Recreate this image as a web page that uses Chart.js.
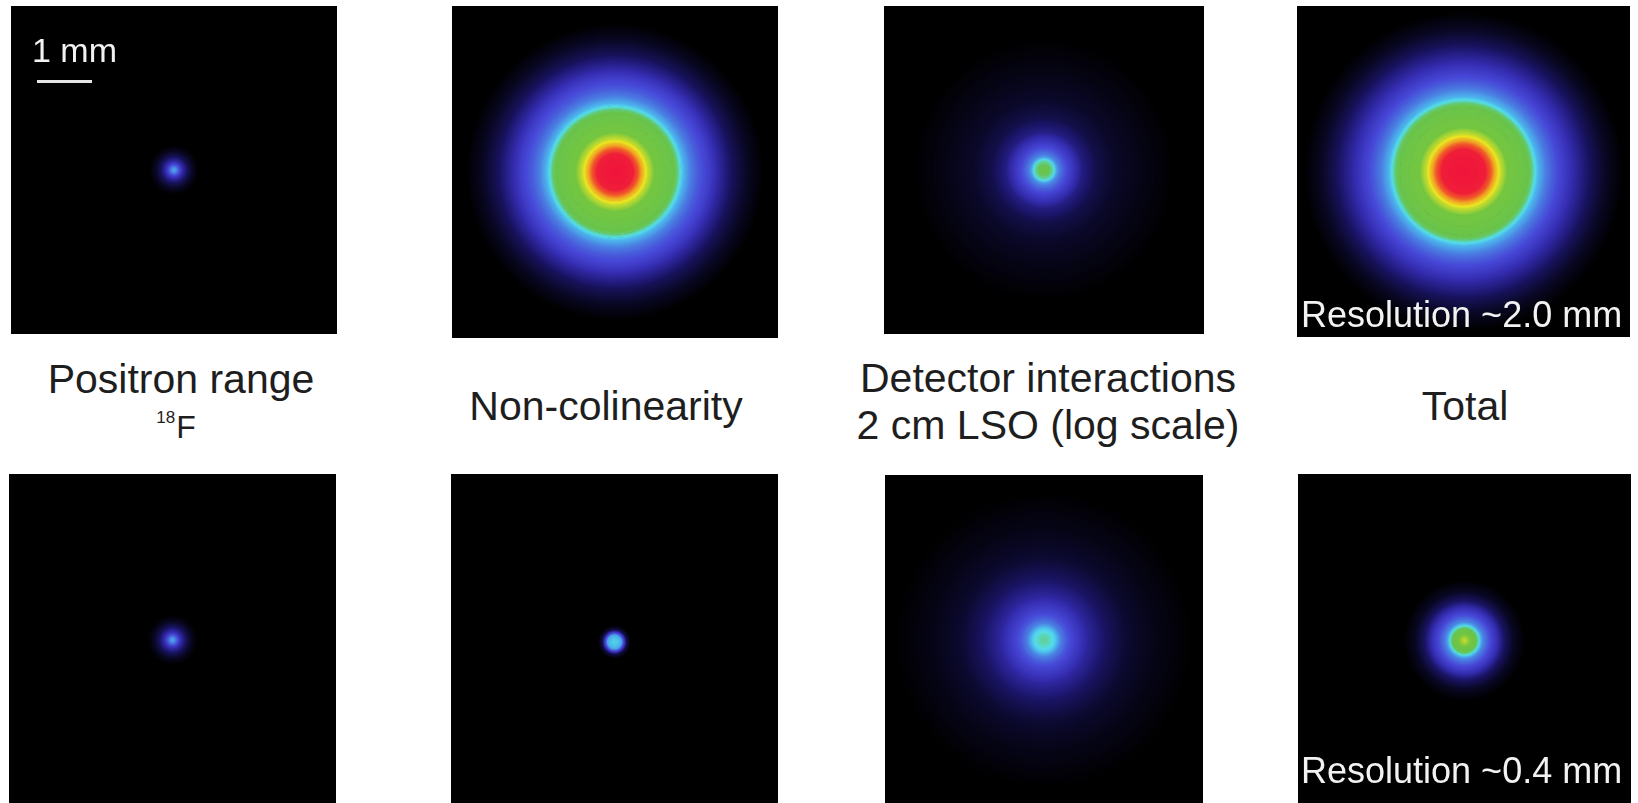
<!DOCTYPE html>
<html>
<head>
<meta charset="utf-8">
<script src="https://cdn.jsdelivr.net/npm/chart.js@4.4.1/dist/chart.umd.min.js"></script>
<style>
html,body{margin:0;padding:0;background:#fff;width:1638px;height:803px;overflow:hidden;font-family:"Liberation Sans",Arial,sans-serif;}
.panel{position:absolute;background:#000;overflow:hidden;}
.panel canvas{display:block;}
.lbl{position:absolute;color:#1e1e1e;font-size:41px;line-height:41px;white-space:nowrap;transform:translateX(-50%);}
.wt{position:absolute;color:#f2f2f2;white-space:nowrap;z-index:5;}
.bar{position:absolute;background:#e6e6e6;z-index:5;}
sup{font-size:17px;vertical-align:baseline;position:relative;top:-15px;margin-right:1px;}
</style>
</head>
<body>
<div id="root"></div>
<script>
// ---------------- DATA (radial profiles) ----------------
// radius in mm from the centre of each point-spread image, level = relative colour level (0..1)
const positronRangeRadius   = [0, 0.05, 0.10, 0.16, 0.24, 0.34, 0.45];
const positronRangeLevel    = [0.48, 0.44, 0.34, 0.22, 0.12, 0.05, 0];

const nonColinearityRadius  = [0, 0.20, 0.33, 0.42, 0.52, 0.60, 0.72, 0.90, 1.05, 1.13, 1.19, 1.25, 1.36, 1.50, 1.68, 1.88, 2.12, 2.42, 2.70];
const nonColinearityLevel   = [1.00, 0.97, 0.93, 0.88, 0.82, 0.76, 0.70, 0.65, 0.60, 0.56, 0.52, 0.49, 0.44, 0.38, 0.32, 0.22, 0.12, 0.05, 0];

const detectorTopRadius     = [0, 0.10, 0.18, 0.25, 0.35, 0.50, 0.70, 0.95, 1.30, 1.80, 2.40];
const detectorTopLevel      = [0.60, 0.57, 0.53, 0.45, 0.38, 0.29, 0.17, 0.10, 0.06, 0.03, 0];

const totalTopRadius        = [0, 0.25, 0.40, 0.50, 0.60, 0.68, 0.80, 1.00, 1.15, 1.24, 1.30, 1.36, 1.48, 1.62, 1.78, 2.02, 2.30, 2.60, 2.90];
const totalTopLevel         = [1.00, 0.97, 0.93, 0.88, 0.82, 0.76, 0.70, 0.65, 0.60, 0.56, 0.52, 0.49, 0.44, 0.38, 0.32, 0.22, 0.12, 0.05, 0];

const nonColinearityLowRadius = [0, 0.08, 0.13, 0.17, 0.22, 0.30];
const nonColinearityLowLevel  = [0.51, 0.50, 0.47, 0.32, 0.10, 0];

const detectorLowRadius     = [0, 0.12, 0.22, 0.30, 0.42, 0.58, 0.80, 1.10, 1.50, 2.00, 2.70];
const detectorLowLevel      = [0.55, 0.53, 0.50, 0.44, 0.37, 0.30, 0.21, 0.13, 0.07, 0.035, 0];

const totalLowRadius        = [0, 0.08, 0.16, 0.22, 0.27, 0.33, 0.45, 0.58, 0.72, 0.90, 1.10];
const totalLowLevel         = [0.76, 0.72, 0.64, 0.57, 0.52, 0.45, 0.36, 0.26, 0.13, 0.05, 0];

const columnTitles = [["Positron range", "18F"], ["Non-colinearity"], ["Detector interactions", "2 cm LSO (log scale)"], ["Total"]];
const resolutionLabels = ["Resolution ~2.0 mm", "Resolution ~0.4 mm"];
const scaleBarLabel = "1 mm";
const scaleBarMm = 1;

// ---------------- STYLE ----------------
const PX_PER_MM = 55;
const colormapStops = [
  [0.00, [0, 0, 0]], [0.06, [10, 8, 40]], [0.14, [28, 22, 108]], [0.24, [52, 44, 176]],
  [0.34, [70, 70, 214]], [0.43, [74, 124, 226]], [0.49, [76, 180, 236]], [0.52, [84, 222, 234]],
  [0.55, [96, 206, 140]], [0.58, [104, 196, 76]], [0.70, [116, 198, 64]], [0.75, [184, 216, 48]],
  [0.79, [236, 230, 32]], [0.84, [240, 168, 36]], [0.88, [240, 90, 40]], [0.93, [240, 30, 56]],
  [1.00, [240, 20, 60]]
];
function cmap(v) {
  v = Math.max(0, Math.min(1, v));
  for (let i = 0; i < colormapStops.length - 1; i++) {
    const [a, ca] = colormapStops[i], [b, cb] = colormapStops[i + 1];
    if (v <= b) {
      const t = (v - a) / (b - a);
      const c = ca.map((x, k) => Math.round(x + (cb[k] - x) * t));
      return `rgb(${c[0]},${c[1]},${c[2]})`;
    }
  }
  const c = colormapStops[colormapStops.length - 1][1];
  return `rgb(${c[0]},${c[1]},${c[2]})`;
}

const panels = [
  {r: positronRangeRadius,     v: positronRangeLevel,     box: [11, 6, 326, 328]},
  {r: nonColinearityRadius,    v: nonColinearityLevel,    box: [452, 6, 326, 332]},
  {r: detectorTopRadius,       v: detectorTopLevel,       box: [884, 6, 320, 328]},
  {r: totalTopRadius,          v: totalTopLevel,          box: [1297, 6, 333, 331]},
  {r: positronRangeRadius,     v: positronRangeLevel,     box: [9, 474, 327, 332]},
  {r: nonColinearityLowRadius, v: nonColinearityLowLevel, box: [451, 474, 327, 336]},
  {r: detectorLowRadius,       v: detectorLowLevel,       box: [885, 475, 318, 330]},
  {r: totalLowRadius,          v: totalLowLevel,          box: [1298, 474, 333, 333]}
];

const root = document.getElementById('root');

function gradientFor(chart, r, v) {
  if (chart.$grad) return chart.$grad;
  const ca = chart.chartArea;
  if (!ca) return '#000';
  const cx = (ca.left + ca.right) / 2, cy = (ca.top + ca.bottom) / 2;
  const rmax = r[r.length - 1];
  const g = chart.ctx.createRadialGradient(cx, cy, 0, cx, cy, rmax * PX_PER_MM);
  const sub = 10;
  for (let i = 0; i < r.length - 1; i++) {
    for (let k = 0; k < sub; k++) {
      const t = k / sub;
      const rr = r[i] + (r[i + 1] - r[i]) * t;
      const vv = v[i] + (v[i + 1] - v[i]) * t;
      g.addColorStop(rr / rmax, cmap(vv));
    }
  }
  g.addColorStop(1, cmap(v[v.length - 1]));
  chart.$grad = g;
  return g;
}

panels.forEach((p) => {
  const [x, y, w, h] = p.box;
  const div = document.createElement('div');
  div.className = 'panel';
  div.style.left = x + 'px'; div.style.top = y + 'px';
  div.style.width = w + 'px'; div.style.height = h + 'px';
  const cv = document.createElement('canvas');
  cv.width = w; cv.height = h;
  cv.style.width = w + 'px'; cv.style.height = h + 'px';
  div.appendChild(cv);
  root.appendChild(div);

  const datasets = [];
  for (let i = p.r.length - 2; i >= 0; i--) {
    datasets.push({
      data: [1],
      weight: p.r[i + 1] - p.r[i],
      backgroundColor: (c) => gradientFor(c.chart, p.r, p.v),
      borderColor: (c) => gradientFor(c.chart, p.r, p.v),
      borderWidth: 1,
      hoverOffset: 0,
      offset: 0
    });
  }
  new Chart(cv, {
    type: 'doughnut',
    data: {labels: ['ring'], datasets},
    options: {
      responsive: false,
      animation: false,
      events: [],
      cutout: 0,
      radius: p.r[p.r.length - 1] * PX_PER_MM,
      layout: {padding: 0},
      plugins: {legend: {display: false}, tooltip: {enabled: false}, title: {display: false}}
    }
  });
});

// ---------------- TEXT ----------------
function addText(cls, txt, left, baseline, size, extra) {
  const d = document.createElement('div');
  d.className = cls;
  d.innerHTML = txt;
  d.style.fontSize = size + 'px';
  d.style.lineHeight = size + 'px';
  // Liberation Sans: ascent .905, descent .212
  d.style.left = left + 'px';
  d.style.top = (baseline - size * (0.905 - 0.0585)) + 'px';
  if (extra) Object.assign(d.style, extra);
  document.body.appendChild(d);
  return d;
}
const colCenters = [181, 606, 1048, 1465];
addText('lbl', columnTitles[0][0], colCenters[0], 394, 41);
addText('lbl', '<sup>' + columnTitles[0][1].slice(0, 2) + '</sup>' + columnTitles[0][1].slice(2), 176, 438, 32);
addText('lbl', columnTitles[1][0], colCenters[1], 421, 41);
addText('lbl', columnTitles[2][0], colCenters[2], 393, 41);
addText('lbl', columnTitles[2][1], colCenters[2], 440, 41);
addText('lbl', columnTitles[3][0], colCenters[3], 421, 41);

addText('wt', resolutionLabels[0], 1301, 327, 36);
addText('wt', resolutionLabels[1], 1301, 783, 36);
addText('wt', scaleBarLabel, 32, 62, 34);
const bar = document.createElement('div');
bar.className = 'bar';
bar.style.left = '37px'; bar.style.top = '80px';
bar.style.width = (scaleBarMm * PX_PER_MM) + 'px'; bar.style.height = '3px';
document.body.appendChild(bar);
</script>
</body>
</html>
